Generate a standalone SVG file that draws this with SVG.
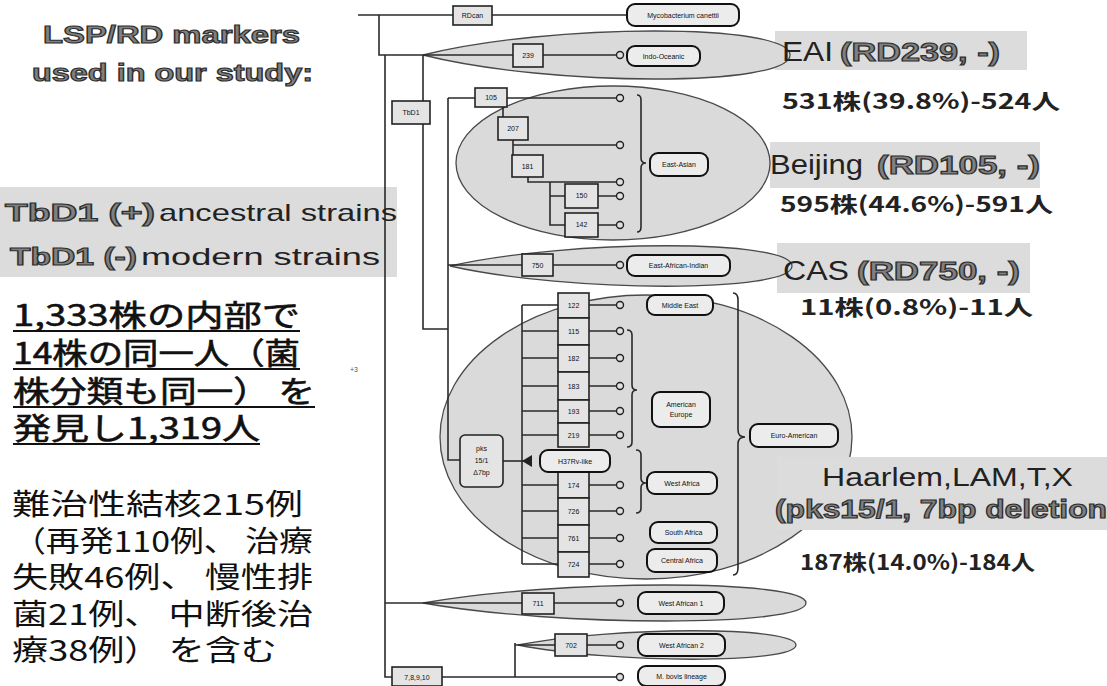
<svg xmlns="http://www.w3.org/2000/svg" width="1107" height="686" viewBox="0 0 1107 686">
<style>
.ln{stroke:#2a2a2a;stroke-width:1.6;fill:none}
.bx{fill:#e4e4e4;stroke:#222;stroke-width:1.6}
.lb{fill:#ececec;stroke:#111;stroke-width:2}
.cl{fill:#e0e0e0;stroke:#222;stroke-width:1.4}
.el{fill:#dadada;stroke:#4a4a4a;stroke-width:1.3}
.hl{fill:#dcdcdc}
.bt{font-family:"Liberation Sans",Arial,sans-serif;font-size:7px;fill:#111;text-anchor:middle}
.lt{font-family:"Liberation Sans",Arial,sans-serif;font-size:7px;fill:#111;text-anchor:middle}
.hv{font-family:"Liberation Sans",Arial,sans-serif;font-weight:bold;fill:#808080;stroke:#2e2e2e;stroke-width:1.1}
.nm{font-family:"Liberation Sans",Arial,sans-serif;fill:#222}
.cn{font-family:"Noto Sans CJK JP",sans-serif;font-weight:bold;fill:#222;font-size:21px}
.jp{font-family:"Noto Sans CJK JP",sans-serif;fill:#111}
.jb{font-family:"Noto Sans CJK JP",sans-serif;fill:#111;stroke:#111;stroke-width:0.6}
.ul{stroke:#111;stroke-width:2}
</style>
<rect width="1107" height="686" fill="#ffffff"/>

<!-- highlight backgrounds -->
<rect class="hl" x="0" y="187" width="397" height="90"/>
<rect class="hl" x="775" y="31" width="252" height="39"/>
<rect class="hl" x="770" y="142" width="270" height="46"/>
<rect class="hl" x="777" y="243" width="253" height="50"/>

<!-- group ellipses -->
<g id="groups">
<path class="el" d="M423,55 C551,23 790,23 790,55 C790,87 551,87 423,55Z"/>
<ellipse class="el" cx="613" cy="163" rx="157" ry="77"/>
<path class="el" d="M450,266 C570,239 792,239 792,266 C792,293 570,293 450,266Z"/>
<ellipse class="el" cx="646" cy="437" rx="206" ry="142"/>
<path class="el" d="M423,603 C557,579 806,579 806,603 C806,627 557,627 423,603Z"/>
<path class="el" d="M518,645 C615,626 796,626 796,645 C796,664 615,664 518,645Z"/>
</g>
<rect class="hl" x="777" y="457" width="330" height="73"/>

<!-- connectors -->
<g id="connectors">
<path class="ln" d="M358,15 H627"/>
<path class="ln" d="M379,15 V55 H617"/>
<path class="ln" d="M385,55 V677 H617"/>
<path class="ln" d="M423,55 V329 H448"/>
<path class="ln" d="M448,98 V460 H460"/>
<path class="ln" d="M448,98 H617"/>
<path class="ln" d="M503,107 V117"/>
<path class="ln" d="M513,140 V155 M513,145 H617"/>
<path class="ln" d="M528,177 V182 H617"/>
<path class="ln" d="M550,182 V225 H617 M550,196 H617"/>
<path class="ln" d="M448,265 H617"/>
<path class="ln" d="M503,461 H524"/>
<polygon points="522,461 532,455 532,467" fill="#222"/>
<path class="ln" d="M522,305 V564"/>
<path class="ln" d="M522,305 H617 M522,331 H617 M522,358 H617 M522,386 H617 M522,411 H617 M522,435 H617 M522,485 H617 M522,511 H617 M522,538 H617 M522,564 H617"/>
<path class="ln" d="M385,603 H617"/>
<path class="ln" d="M515,643 V677 M515,645 H617"/>
<!-- braces -->
<path class="ln" d="M637,95 Q641,95 641,100 V158 Q641,163 646,163 Q641,163 641,168 V227 Q641,232 637,232"/>
<path class="ln" d="M627,330 Q632,330 632,335 V385 Q632,390 637,390 Q632,390 632,395 V442 Q632,447 627,447"/>
<path class="ln" d="M636,450 Q641,450 641,455 V478 Q641,483 646,483 Q641,483 641,488 V508 Q641,513 636,513"/>
<path class="ln" d="M733,293 Q738,293 738,300 V430 Q738,437 745,437 Q738,437 738,444 V568 Q738,575 733,575"/>
<!-- end circles -->
<circle class="cl" cx="620" cy="55" r="3.5"/>
<circle class="cl" cx="620" cy="98" r="3.5"/>
<circle class="cl" cx="620" cy="145" r="3.5"/>
<circle class="cl" cx="620" cy="182" r="3.5"/>
<circle class="cl" cx="620" cy="196" r="3.5"/>
<circle class="cl" cx="620" cy="225" r="3.5"/>
<circle class="cl" cx="620" cy="265" r="3.5"/>
<circle class="cl" cx="620" cy="305" r="3.5"/>
<circle class="cl" cx="620" cy="331" r="3.5"/>
<circle class="cl" cx="620" cy="358" r="3.5"/>
<circle class="cl" cx="620" cy="386" r="3.5"/>
<circle class="cl" cx="620" cy="411" r="3.5"/>
<circle class="cl" cx="620" cy="435" r="3.5"/>
<circle class="cl" cx="620" cy="485" r="3.5"/>
<circle class="cl" cx="620" cy="511" r="3.5"/>
<circle class="cl" cx="620" cy="538" r="3.5"/>
<circle class="cl" cx="620" cy="564" r="3.5"/>
<circle class="cl" cx="620" cy="603" r="3.5"/>
<circle class="cl" cx="620" cy="645" r="3.5"/>
<circle class="cl" cx="620" cy="677" r="3.5"/>
</g>

<!-- marker boxes -->
<g id="n-can"><rect class="bx" x="453" y="6" width="39" height="19"/><text class="bt" x="472.5" y="18">RDcan</text></g>
<g id="n-239"><rect class="bx" x="513" y="44" width="30" height="23"/><text class="bt" x="528" y="58">239</text></g>
<g id="n-tbd1"><rect class="bx" x="392" y="101" width="38" height="23"/><text class="bt" x="411" y="115">TbD1</text></g>
<g id="n-105"><rect class="bx" x="475" y="88" width="32" height="19"/><text class="bt" x="491" y="100">105</text></g>
<g id="n-207"><rect class="bx" x="498" y="117" width="30" height="23"/><text class="bt" x="513" y="131">207</text></g>
<g id="n-181"><rect class="bx" x="512" y="155" width="31" height="22"/><text class="bt" x="527.5" y="169">181</text></g>
<g id="n-150"><rect class="bx" x="565" y="184" width="33" height="24"/><text class="bt" x="581.5" y="198">150</text></g>
<g id="n-142"><rect class="bx" x="565" y="213" width="33" height="24"/><text class="bt" x="581.5" y="227">142</text></g>
<g id="n-750"><rect class="bx" x="522" y="254" width="31" height="22"/><text class="bt" x="537.5" y="268">750</text></g>
<g id="n-pks"><rect class="bx" x="460" y="435" width="43" height="52" rx="5"/><text class="bt" x="481.5" y="451">pks</text><text class="bt" x="481.5" y="463">15/1</text><text class="bt" x="481.5" y="475">Δ7bp</text></g>
<g id="n-122"><rect class="bx" x="558" y="293" width="31" height="25"/><text class="bt" x="573.5" y="308">122</text></g>
<g id="n-115"><rect class="bx" x="558" y="318" width="31" height="27"/><text class="bt" x="573.5" y="334">115</text></g>
<g id="n-182"><rect class="bx" x="558" y="345" width="31" height="27"/><text class="bt" x="573.5" y="361">182</text></g>
<g id="n-183"><rect class="bx" x="558" y="372" width="31" height="28"/><text class="bt" x="573.5" y="389">183</text></g>
<g id="n-193"><rect class="bx" x="558" y="400" width="31" height="23"/><text class="bt" x="573.5" y="414">193</text></g>
<g id="n-219"><rect class="bx" x="558" y="423" width="31" height="24"/><text class="bt" x="573.5" y="438">219</text></g>
<g id="n-174"><rect class="bx" x="558" y="472" width="31" height="26"/><text class="bt" x="573.5" y="488">174</text></g>
<g id="n-726"><rect class="bx" x="558" y="498" width="31" height="27"/><text class="bt" x="573.5" y="514">726</text></g>
<g id="n-761"><rect class="bx" x="558" y="525" width="31" height="27"/><text class="bt" x="573.5" y="541">761</text></g>
<g id="n-724"><rect class="bx" x="558" y="552" width="31" height="25"/><text class="bt" x="573.5" y="567">724</text></g>
<g id="n-711"><rect class="bx" x="522" y="593" width="32" height="21"/><text class="bt" x="538" y="606">711</text></g>
<g id="n-702"><rect class="bx" x="555" y="634" width="32" height="22"/><text class="bt" x="571" y="648">702</text></g>
<g id="n-7810"><rect class="bx" x="392" y="667" width="50" height="19"/><text class="bt" x="417" y="680">7,8,9,10</text></g>

<!-- lineage labels -->
<g id="l-can"><rect class="lb" x="627" y="4" width="112" height="22" rx="8"/><text class="lt" x="683" y="18">Mycobacterium canettii</text></g>
<g id="l-io"><rect class="lb" x="627" y="46" width="73" height="20" rx="8"/><text class="lt" x="663.5" y="59">Indo-Oceanic</text></g>
<g id="l-ea"><rect class="lb" x="650" y="153" width="58" height="23" rx="8"/><text class="lt" x="679" y="167">East-Asian</text></g>
<g id="l-eai"><rect class="lb" x="627" y="255" width="103" height="21" rx="8"/><text class="lt" x="678.5" y="268">East-African-Indian</text></g>
<g id="l-me"><rect class="lb" x="647" y="295" width="66" height="20" rx="8"/><text class="lt" x="680" y="308">Middle East</text></g>
<g id="l-ae"><rect class="lb" x="652" y="392" width="58" height="35" rx="8"/><text class="lt" x="681" y="407">American</text><text class="lt" x="681" y="417">Europe</text></g>
<g id="l-h37"><rect class="lb" x="540" y="450" width="70" height="22" rx="8"/><text class="lt" x="575" y="464">H37Rv-like</text></g>
<g id="l-wa"><rect class="lb" x="647" y="472" width="70" height="22" rx="8"/><text class="lt" x="682" y="486">West Africa</text></g>
<g id="l-sa"><rect class="lb" x="650" y="522" width="67" height="21" rx="8"/><text class="lt" x="683.5" y="535">South Africa</text></g>
<g id="l-cea"><rect class="lb" x="647" y="549" width="70" height="23" rx="8"/><text class="lt" x="682" y="563">Central Africa</text></g>
<g id="l-euro"><rect class="lb" x="750" y="424" width="88" height="23" rx="8"/><text class="lt" x="794" y="438">Euro-American</text></g>
<g id="l-wa1"><rect class="lb" x="638" y="592" width="86" height="22" rx="8"/><text class="lt" x="681" y="606">West African 1</text></g>
<g id="l-wa2"><rect class="lb" x="638" y="634" width="87" height="22" rx="8"/><text class="lt" x="681.5" y="648">West African 2</text></g>
<g id="l-bov"><rect class="lb" x="638" y="666" width="87" height="20" rx="8"/><text class="lt" x="681.5" y="679">M. bovis lineage</text></g>

<!-- left texts -->
<g id="title">
<text class="hv" x="43" y="43" font-size="24" textLength="257" lengthAdjust="spacingAndGlyphs">LSP/RD markers</text>
<text class="hv" x="32" y="81" font-size="24" textLength="281" lengthAdjust="spacingAndGlyphs">used in our study:</text>
</g>
<g id="legend">
<text class="hv" x="5" y="221" font-size="24" textLength="150" lengthAdjust="spacingAndGlyphs">TbD1 (+)</text>
<text class="nm" x="159" y="221" font-size="24" textLength="238" lengthAdjust="spacingAndGlyphs">ancestral strains</text>
<text class="hv" x="10" y="265" font-size="24" textLength="127" lengthAdjust="spacingAndGlyphs">TbD1 (-)</text>
<text class="nm" x="141" y="265" font-size="24" textLength="239" lengthAdjust="spacingAndGlyphs">modern strains</text>
</g>
<g id="note1">
<text class="jb" x="13" y="326" font-size="30" textLength="287" lengthAdjust="spacingAndGlyphs">1,333株の内部で</text>
<text class="jb" x="13" y="364" font-size="30" textLength="287" lengthAdjust="spacingAndGlyphs">14株の同一人（菌</text>
<text class="jb" x="13" y="402" font-size="30" textLength="302" lengthAdjust="spacingAndGlyphs">株分類も同一） を</text>
<text class="jb" x="13" y="439" font-size="30" textLength="247" lengthAdjust="spacingAndGlyphs">発見し1,319人</text>
<path class="ul" d="M13,331 H300 M13,369 H300 M13,407 H315 M13,444 H260"/>
</g>
<text x="350" y="372" font-family="Liberation Sans, sans-serif" font-size="7" fill="#555">+3</text>
<g id="note2">
<text class="jp" x="12" y="515" font-size="29" textLength="291" lengthAdjust="spacingAndGlyphs">難治性結核215例</text>
<text class="jp" x="12" y="552" font-size="29" textLength="301" lengthAdjust="spacingAndGlyphs">（再発110例、 治療</text>
<text class="jp" x="12" y="588" font-size="29" textLength="301" lengthAdjust="spacingAndGlyphs">失敗46例、 慢性排</text>
<text class="jp" x="12" y="625" font-size="29" textLength="301" lengthAdjust="spacingAndGlyphs">菌21例、 中断後治</text>
<text class="jp" x="12" y="661" font-size="29" textLength="265" lengthAdjust="spacingAndGlyphs">療38例） を含む</text>
</g>

<!-- right texts -->
<g id="r-eai">
<text class="nm" x="782" y="61" font-size="27" textLength="51" lengthAdjust="spacingAndGlyphs">EAI</text>
<text class="hv" x="840" y="61" font-size="25" textLength="160" lengthAdjust="spacingAndGlyphs">(RD239, -)</text>
<text class="cn" x="782" y="109" textLength="278" lengthAdjust="spacingAndGlyphs">531株(39.8%)-524人</text>
</g>
<g id="r-bj">
<text class="nm" x="770" y="174" font-size="27" textLength="93" lengthAdjust="spacingAndGlyphs">Beijing</text>
<text class="hv" x="877" y="174" font-size="25" textLength="163" lengthAdjust="spacingAndGlyphs">(RD105, -)</text>
<text class="cn" x="780" y="212" textLength="273" lengthAdjust="spacingAndGlyphs">595株(44.6%)-591人</text>
</g>
<g id="r-cas">
<text class="nm" x="783" y="280" font-size="27" textLength="66" lengthAdjust="spacingAndGlyphs">CAS</text>
<text class="hv" x="857" y="280" font-size="25" textLength="163" lengthAdjust="spacingAndGlyphs">(RD750, -)</text>
<text class="cn" x="800" y="315" textLength="233" lengthAdjust="spacingAndGlyphs">11株(0.8%)-11人</text>
</g>
<g id="r-euro">
<text class="nm" x="822" y="486" font-size="26" textLength="251" lengthAdjust="spacingAndGlyphs">Haarlem,LAM,T,X</text>
<text class="hv" x="775" y="518" font-size="25" textLength="332" lengthAdjust="spacingAndGlyphs">(pks15/1, 7bp deletion</text>
<text class="cn" x="800" y="570" textLength="235" lengthAdjust="spacingAndGlyphs">187株(14.0%)-184人</text>
</g>
</svg>
